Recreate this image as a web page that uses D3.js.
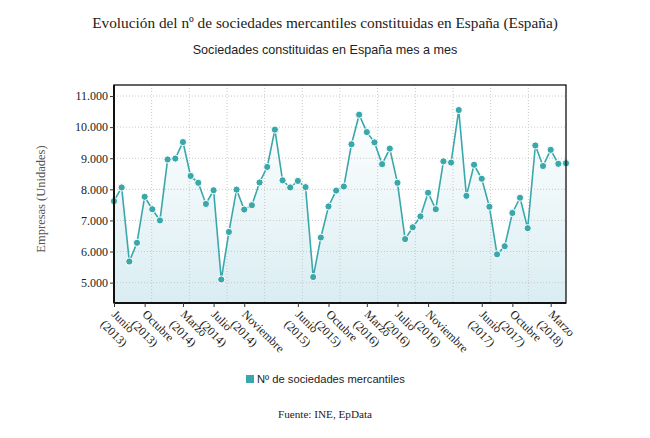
<!DOCTYPE html>
<html>
<head>
<meta charset="utf-8">
<script src="https://cdn.jsdelivr.net/npm/d3@7"></script>
<style>
  body { margin: 0; background: #fff; }
  svg { display: block; }
</style>
</head>
<body>
<div id="chart"></div>
<script>
// datos mensuales: junio 2013 - mayo 2018
var startYear = 2013, startMonth = 5; // junio
var values = [
  7620, 8060, 5680, 6280, 7760, 7360, 7000, 8960, 8990, 9520,
  8430, 8210, 7530, 7970, 5100, 6630, 7990, 7350, 7490, 8220,
  8720, 9920, 8290, 8060, 8270, 8070, 5180, 6450, 7450, 7960,
  8090, 9450, 10400, 9840, 9510, 8810, 9310, 8210, 6400, 6780,
  7130, 7890, 7360, 8900, 8860, 10550, 7790, 8790, 8340, 7440,
  5910, 6170, 7240, 7730, 6750, 9410, 8750, 9270, 8820, 8840
];
var tickIdx = [0, 4, 9, 13, 17, 24, 28, 33, 37, 41, 48, 52, 57];
var monthNames = ["Enero", "Febrero", "Marzo", "Abril", "Mayo", "Junio", "Julio",
  "Agosto", "Septiembre", "Octubre", "Noviembre", "Diciembre"];
var yTicks = [5000, 6000, 7000, 8000, 9000, 10000, 11000];

var W = 650, H = 438;
var m = {left: 114, right: 84, top: 85, bottom: 135};
var iw = W - m.left - m.right, ih = H - m.top - m.bottom;
var teal = "#3aa8aa";

var svg = d3.select("#chart").append("svg")
  .attr("width", W).attr("height", H);

var x = d3.scaleLinear().domain([0, values.length - 1]).range([m.left, m.left + iw]);
var y = d3.scaleLinear().domain([4345, 11355]).range([m.top + ih, m.top]);

var defs = svg.append("defs");
var grad = defs.append("linearGradient").attr("id", "fillGrad")
  .attr("x1", 0).attr("y1", 0).attr("x2", 0).attr("y2", 1);
grad.append("stop").attr("offset", "0%").attr("stop-color", "#ffffff");
grad.append("stop").attr("offset", "100%").attr("stop-color", "#d9edf2");

// titulos
svg.append("text").attr("x", W / 2).attr("y", 28).attr("text-anchor", "middle")
  .style("font-family", "'Liberation Serif', serif").style("font-size", "15.3px")
  .attr("fill", "#222").text("Evolución del nº de sociedades mercantiles constituidas en España (España)");
svg.append("text").attr("x", W / 2).attr("y", 54).attr("text-anchor", "middle")
  .style("font-family", "'Liberation Sans', Arial, sans-serif").style("font-size", "12.6px")
  .attr("fill", "#222").text("Sociedades constituidas en España mes a mes");

// area
svg.append("path").datum(values)
  .attr("fill", "url(#fillGrad)")
  .attr("d", d3.area().x(function(d, i){ return x(i); }).y0(m.top + ih).y1(function(d){ return y(d); }));

// rejilla
var g = svg.append("g");
g.selectAll(".hg").data(yTicks).enter().append("line")
  .attr("x1", m.left).attr("x2", m.left + iw)
  .attr("y1", function(d){ return y(d); }).attr("y2", function(d){ return y(d); })
  .attr("stroke", "#c8c8c8").attr("stroke-dasharray", "1,2");
g.selectAll(".vg").data(d3.range(1, 12)).enter().append("line")
  .attr("x1", function(k){ return m.left + k * iw / 12; })
  .attr("x2", function(k){ return m.left + k * iw / 12; })
  .attr("y1", m.top).attr("y2", m.top + ih)
  .attr("stroke", "#c8c8c8").attr("stroke-dasharray", "1,2");

// linea y puntos
svg.append("path").datum(values)
  .attr("fill", "none").attr("stroke", teal).attr("stroke-width", 1.6)
  .attr("d", d3.line().x(function(d, i){ return x(i); }).y(function(d){ return y(d); }));
svg.selectAll(".pt").data(values).enter().append("circle")
  .attr("cx", function(d, i){ return x(i); }).attr("cy", function(d){ return y(d); })
  .attr("r", 3.6).attr("fill", teal).attr("stroke", "#fff").attr("stroke-width", 1);

// marco
svg.append("rect").attr("x", m.left).attr("y", m.top).attr("width", iw).attr("height", ih)
  .attr("fill", "none").attr("stroke", "#111").attr("stroke-width", 1.3);
svg.append("line").attr("x1", m.left).attr("x2", m.left).attr("y1", m.top).attr("y2", m.top + ih)
  .attr("stroke", "#111").attr("stroke-width", 2);
svg.append("line").attr("x1", m.left).attr("x2", m.left + iw).attr("y1", m.top + ih).attr("y2", m.top + ih)
  .attr("stroke", "#111").attr("stroke-width", 2);

// eje y
var yAxis = svg.append("g").attr("transform", "translate(" + m.left + ",0)")
  .call(d3.axisLeft(y).tickValues(yTicks).tickSize(4).tickPadding(2)
    .tickFormat(function(d){ return d3.format(",")(d).replace(/,/g, "."); }));
yAxis.select(".domain").remove();
yAxis.selectAll("line").attr("stroke", "#333");
yAxis.selectAll("text").style("font-family", "'Liberation Serif', serif")
  .style("font-size", "12px").attr("fill", "#222");

svg.append("text").attr("transform", "translate(45," + (m.top + ih / 2 + 5) + ") rotate(-90)")
  .attr("text-anchor", "middle")
  .style("font-family", "'Liberation Serif', serif").style("font-size", "12.5px")
  .attr("fill", "#555").text("Empresas (Unidades)");

// eje x
var xAxis = svg.append("g").attr("transform", "translate(0," + (m.top + ih) + ")")
  .call(d3.axisBottom(x).tickValues(tickIdx).tickSize(4).tickFormat(""));
xAxis.select(".domain").remove();
xAxis.selectAll("line").attr("stroke", "#333");

var xl = svg.selectAll(".xl").data(tickIdx).enter().append("text")
  .attr("transform", function(d){ return "translate(" + (x(d) - 3) + "," + (m.top + ih + 12) + ") rotate(45)"; })
  .style("font-family", "'Liberation Serif', serif").style("font-size", "12px")
  .attr("fill", "#222");
xl.append("tspan").attr("x", 0).attr("y", 0)
  .text(function(d){ return monthNames[(startMonth + d) % 12]; });
xl.append("tspan").attr("x", -1).attr("y", 15)
  .text(function(d){ return "(" + (startYear + Math.floor((startMonth + d) / 12)) + ")"; });

// leyenda
svg.append("rect").attr("x", 246).attr("y", 375).attr("width", 8).attr("height", 8).attr("fill", teal);
svg.append("text").attr("x", 257).attr("y", 383)
  .style("font-family", "'Liberation Sans', Arial, sans-serif").style("font-size", "11.2px")
  .attr("fill", "#222").text("Nº de sociedades mercantiles");

svg.append("text").attr("x", W / 2).attr("y", 418).attr("text-anchor", "middle")
  .style("font-family", "'Liberation Serif', serif").style("font-size", "11.2px")
  .attr("fill", "#222").text("Fuente: INE, EpData");
</script>
</body>
</html>
